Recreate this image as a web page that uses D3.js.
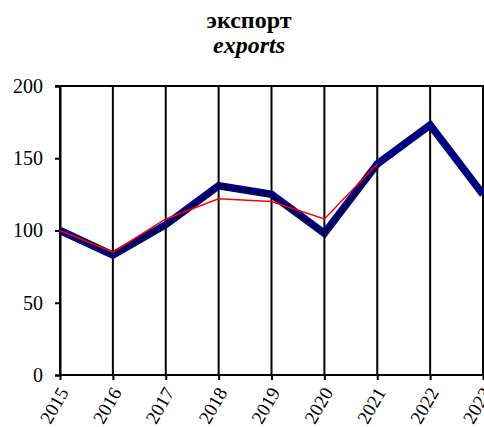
<!DOCTYPE html>
<html>
<head>
<meta charset="utf-8">
<script src="https://cdn.jsdelivr.net/npm/d3@7"></script>
<style>
  body { margin: 0; background: #fff; }
</style>
</head>
<body>
<script>
// values
var years = [2015, 2016, 2017, 2018, 2019, 2020, 2021, 2022, 2023];
var navySeries = [100, 83, 104, 131, 125, 98, 146, 173, 125];
var dashSeries = [100, 84, 103, 131, 124, 98, 145];
var redSeries = [100, 85, 108, 122, 120, 108, 146];
var yTicks = [0, 50, 100, 150, 200];

var serif = "'Liberation Serif', 'Times New Roman', serif";

var width = 484,
    height = 427;

var svg = d3.select("body").append("svg")
    .attr("width", width)
    .attr("height", height);

var x = d3.scaleLinear()
    .domain([2015, 2023])
    .range([60, 483]);

var y = d3.scaleLinear()
    .domain([0, 200])
    .range([375, 86]);

// title
svg.append("text")
    .attr("x", 249).attr("y", 28)
    .attr("text-anchor", "middle")
    .style("font-family", serif).style("font-size", "24px").style("font-weight", "bold")
    .text("экспорт");
svg.append("text")
    .attr("x", 249).attr("y", 53)
    .attr("text-anchor", "middle")
    .style("font-family", serif).style("font-size", "24px").style("font-weight", "bold").style("font-style", "italic")
    .text("exports");

// vertical grid lines at every year
svg.append("g").selectAll("line")
    .data(years).enter()
    .append("line")
    .attr("x1", function(d){ return x(d); })
    .attr("x2", function(d){ return x(d); })
    .attr("y1", y(200)).attr("y2", y(0))
    .attr("stroke", "#000").attr("stroke-width", 2);

// top border
svg.append("line")
    .attr("x1", 55).attr("x2", width)
    .attr("y1", y(200)).attr("y2", y(200))
    .attr("stroke", "#000").attr("stroke-width", 2);

var yAxis = svg.append("g")
    .attr("transform", "translate(" + x(2015) + ",0)")
    .call(d3.axisLeft(y).tickValues(yTicks).tickSize(5).tickPadding(12));
yAxis.select(".domain").attr("stroke-width", 2);
yAxis.selectAll(".tick line").attr("stroke-width", 2);
yAxis.selectAll("text")
    .style("font-family", serif).style("font-size", "20px")
    .attr("fill", "#000");

var xAxis = svg.append("g")
    .attr("transform", "translate(0," + y(0) + ")")
    .call(d3.axisBottom(x).tickValues(years).tickFormat(d3.format("d")).tickSize(5));
xAxis.select(".domain").attr("stroke-width", 2).attr("d", "M" + x(2015) + ",0H" + width);
xAxis.selectAll(".tick line").attr("stroke-width", 2);
xAxis.selectAll("text")
    .style("font-family", serif).style("font-size", "19px")
    .attr("fill", "#000")
    .attr("text-anchor", "end")
    .attr("dy", "0.35em")
    .attr("transform", "translate(3,14) rotate(-60)")
    .attr("x", 0).attr("y", 0);

var line = d3.line()
    .x(function(d, i){ return x(years[i]); })
    .y(function(d){ return y(d); });

svg.append("path")
    .datum(navySeries)
    .attr("fill", "none")
    .attr("stroke", "#000080")
    .attr("stroke-width", 7.5)
    .attr("stroke-linejoin", "miter")
    .attr("d", line);

svg.append("path")
    .datum(dashSeries)
    .attr("fill", "none")
    .attr("stroke", "#000")
    .attr("stroke-width", 2)
    .attr("stroke-dasharray", "6,4")
    .attr("d", line);

svg.append("path")
    .datum(redSeries)
    .attr("fill", "none")
    .attr("stroke", "#ff0000")
    .attr("stroke-width", 1.5)
    .attr("d", line);
</script>
</body>
</html>
